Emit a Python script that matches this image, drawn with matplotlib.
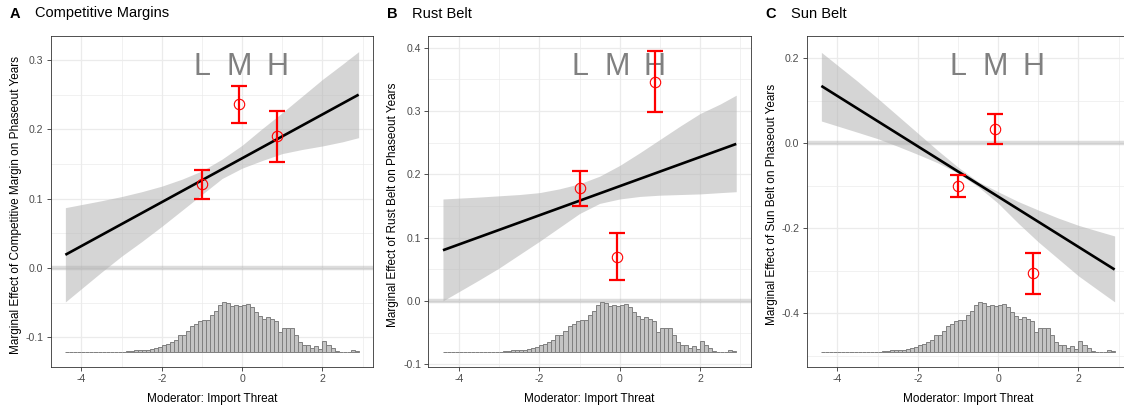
import numpy as np
import matplotlib
matplotlib.use("Agg")
import matplotlib.pyplot as plt
import matplotlib.transforms as mtransforms
from matplotlib.ticker import FixedLocator, FuncFormatter

plt.rcParams['font.family'] = ['Liberation Sans', 'DejaVu Sans']
plt.rcParams['axes.unicode_minus'] = False

# moderator distribution (relative counts, bins of 0.1 from -4.4 to 2.9)
bin_left = np.round(np.linspace(-4.4, 2.8, 73), 2)
hist_counts = [0.5, 0.5, 0.5, 0.5, 0.5, 0.5, 0.5, 0.5, 0.5, 0.5,
               0.5, 1, 1, 1, 2, 3, 3, 6, 7, 7,
               6, 9, 13, 17, 21, 24, 32, 38, 53, 52,
               63, 78, 86, 95, 96, 98, 112, 125, 141, 150,
               147, 138, 141, 140, 143, 145, 135, 120, 110, 100,
               107, 101, 93, 61, 73, 73, 74, 52, 30, 22,
               22, 14, 19, 9, 35, 21, 14, 5, 1.5, 0.5,
               0.5, 6, 4]

# linear marginal effect line and confidence band
line_x = [-4.4, 2.9]
band_x = [-4.4, -3.5, -3.0, -2.5, -2.0, -1.5, -1.0, -0.5, 0.0, 0.5, 1.0, 1.5, 2.0, 2.5, 2.9]

cm_line = [0.019, 0.250]
cm_upper = [0.087, 0.097, 0.103, 0.110, 0.118, 0.128, 0.140, 0.157, 0.177, 0.201, 0.224, 0.248, 0.272, 0.294, 0.312]
cm_lower = [-0.049, -0.006, 0.017, 0.038, 0.060, 0.083, 0.106, 0.129, 0.144, 0.155, 0.165, 0.171, 0.176, 0.182, 0.188]

rb_line = [0.080, 0.248]
rb_upper = [0.161, 0.164, 0.166, 0.168, 0.171, 0.177, 0.185, 0.197, 0.214, 0.234, 0.255, 0.276, 0.296, 0.311, 0.325]
rb_lower = [0.000, 0.033, 0.052, 0.073, 0.094, 0.116, 0.138, 0.154, 0.161, 0.165, 0.167, 0.168, 0.169, 0.171, 0.1725]

sb_line = [0.135, -0.297]
sb_upper = [0.214, 0.146, 0.106, 0.065, 0.024, -0.017, -0.056, -0.090, -0.114, -0.137, -0.157, -0.176, -0.193, -0.207, -0.218]
sb_lower = [0.0525, 0.026, 0.011, -0.007, -0.026, -0.046, -0.070, -0.102, -0.141, -0.188, -0.232, -0.272, -0.312, -0.346, -0.373]

# binning estimates (L, M, H)
bin_labels = ["L", "M", "H"]
bin_x = [-0.99, -0.07, 0.87]

cm_est = [0.121, 0.236, 0.1905]
cm_lo = [0.0996, 0.209, 0.153]
cm_hi = [0.1414, 0.263, 0.227]

rb_est = [0.178, 0.070, 0.346]
rb_lo = [0.150, 0.033, 0.298]
rb_hi = [0.205, 0.107, 0.395]

sb_est = [-0.0997, 0.033, -0.306]
sb_lo = [-0.127, -0.0017, -0.355]
sb_hi = [-0.074, 0.068, -0.257]

panels = [
    dict(tag="A", title="Competitive Margins",
         ylabel="Marginal Effect of Competitive Margin on Phaseout Years",
         line=cm_line, upper=cm_upper, lower=cm_lower,
         est=cm_est, lo=cm_lo, hi=cm_hi,
         ylim=(-0.1424, 0.3346), major=[-0.1, 0.0, 0.1, 0.2, 0.3],
         minor=[-0.05, 0.05, 0.15, 0.25], left=50.7),
    dict(tag="B", title="Rust Belt",
         ylabel="Marginal Effect of Rust Belt on Phaseout Years",
         line=rb_line, upper=rb_upper, lower=rb_lower,
         est=rb_est, lo=rb_lo, hi=rb_hi,
         ylim=(-0.104, 0.4185), major=[-0.1, 0.0, 0.1, 0.2, 0.3, 0.4],
         minor=[-0.05, 0.05, 0.15, 0.25, 0.35], left=428.3),
    dict(tag="C", title="Sun Belt",
         ylabel="Marginal Effect of Sun Belt on Phaseout Years",
         line=sb_line, upper=sb_upper, lower=sb_lower,
         est=sb_est, lo=sb_lo, hi=sb_hi,
         ylim=(-0.5256, 0.2525), major=[-0.4, -0.2, 0.0, 0.2],
         minor=[-0.5, -0.3, -0.1, 0.1], left=806.7),
]

W, H = 1124, 408
fig = plt.figure(figsize=(W / 100, H / 100), dpi=100)
grid_col = '#EBEBEB'

for p in panels:
    ax = fig.add_axes([p['left'] / W, (H - 366.7) / H, 322.6 / W, 330.7 / H])
    ylo, yhi = p['ylim']
    ax.set_xlim(-4.765, 3.265)
    ax.set_ylim(ylo, yhi)

    ax.xaxis.set_major_locator(FixedLocator([-4, -2, 0, 2]))
    ax.xaxis.set_minor_locator(FixedLocator([-3, -1, 1, 3]))
    ax.yaxis.set_major_locator(FixedLocator(p['major']))
    ax.yaxis.set_minor_locator(FixedLocator(p['minor']))
    ax.xaxis.set_major_formatter(FuncFormatter(lambda v, pos: "%d" % round(v)))
    ax.yaxis.set_major_formatter(FuncFormatter(lambda v, pos: "%.1f" % v))
    ax.grid(True, which='major', color=grid_col, lw=0.9, zorder=0)
    ax.grid(True, which='minor', color=grid_col, lw=0.5, zorder=0)
    ax.set_axisbelow(True)
    ax.tick_params(which='major', length=2.8, width=0.6, color='#333333',
                   labelsize=7.6, labelcolor='#4D4D4D', pad=2.4)
    ax.tick_params(which='minor', length=0)
    for s in ax.spines.values():
        s.set_color('#333333')
        s.set_linewidth(0.6)

    # zero reference
    ax.axhline(0, color='#A0A0A0', alpha=0.35, lw=3.2, zorder=1)

    # histogram of moderator
    rng = yhi - ylo
    base = ylo + 0.043 * rng
    scale = 0.152 * rng / max(hist_counts)
    ax.bar(bin_left, np.array(hist_counts) * scale, width=0.1, bottom=base,
           align='edge', color='#C4C4C4', edgecolor='#7F7F7F', lw=0.7, zorder=2)

    # confidence band and linear estimate
    ax.fill_between(band_x, p['lower'], p['upper'], color='#B3B3B3',
                    alpha=0.55, lw=0, zorder=3)
    ax.plot(line_x, p['line'], color='black', lw=1.9, zorder=4,
            solid_capstyle='butt')

    # binning estimates
    est = np.array(p['est'])
    yerr = [est - np.array(p['lo']), np.array(p['hi']) - est]
    ax.errorbar(bin_x, est, yerr=yerr, fmt='none', ecolor='red',
                elinewidth=1.6, capsize=5.5, capthick=1.6, zorder=5)
    ax.plot(bin_x, est, 'o', ms=7.5, mfc='none', mec='red', mew=0.8, zorder=6)

    trans = mtransforms.blended_transform_factory(ax.transData, ax.transAxes)
    for bx, lab in zip(bin_x, bin_labels):
        ax.text(bx, 0.882, lab, transform=trans, ha='center', va='baseline',
                fontsize=22, color='#808080', zorder=4)

    ax.set_xlabel("Moderator: Import Threat", fontsize=8.5)
    ax.xaxis.set_label_coords(0.5, -0.098)
    ax.xaxis.label.set_va('center')
    ax.set_ylabel(p['ylabel'], fontsize=8.5)
    ax.yaxis.set_label_coords(-0.108, 0.49)
    ax.yaxis.label.set_va('center')

    fig.text((p['left'] - 41) / W, 1 - 17.5 / H, p['tag'], fontsize=10.5,
             fontweight='bold', va='baseline')
    fig.text((p['left'] - 16) / W, 1 - 17.5 / H, p['title'], fontsize=10.5,
             va='baseline')

fig.savefig("out.png", dpi=100)
